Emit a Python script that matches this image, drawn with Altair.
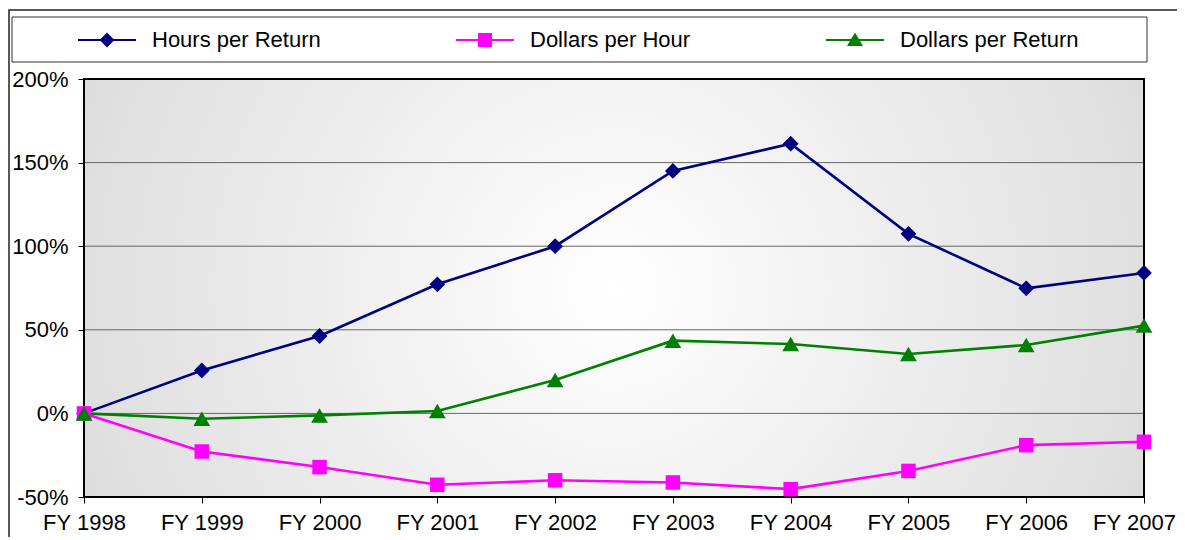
import altair as alt
import pandas as pd

years = ["FY 1998", "FY 1999", "FY 2000", "FY 2001", "FY 2002",
         "FY 2003", "FY 2004", "FY 2005", "FY 2006", "FY 2007"]
series_names = ["Hours per Return", "Dollars per Hour", "Dollars per Return"]
hours_per_return = [0, 25.7, 46.3, 77.2, 100, 145, 161.3, 107.4, 74.8, 84]
dollars_per_hour = [0, -22.8, -32.1, -42.7, -40, -41.3, -45.3, -34.4, -19, -17]
dollars_per_return = [0, -3.2, -1.2, 1.4, 20, 43.5, 41.5, 35.5, 40.9, 52.5]
y_ticks = [-50, 0, 50, 100, 150, 200]
grid_values = [0, 50, 100, 150]

colors = ["#000080", "#FF00FF", "#008000"]
shapes = ["diamond", "square", "triangle-up"]
sizes = [250, 210, 280]
FONT = "Liberation Sans"
FS = 22

rows = []
for name, vals in zip(series_names, [hours_per_return, dollars_per_hour, dollars_per_return]):
    for yr, v in zip(years, vals):
        rows.append({"year": yr, "series": name, "value": v})
df = pd.DataFrame(rows)
grid_df = pd.DataFrame({"value": grid_values})

W, H = 1060, 418

x_enc = alt.X("year:N", sort=years,
              scale=alt.Scale(type="point", padding=0),
              axis=alt.Axis(title=None, labelAngle=0, labelFont=FONT, labelFontSize=FS,
                            labelColor="black", tickColor="black", tickSize=6,
                            domain=False, grid=False, labelPadding=9,
                            labelOffset=alt.ExprRef(expr="datum.value === 'FY 2007' ? -10 : 0")))
y_scale = alt.Scale(domain=[-50, 200], nice=False, zero=False)
y_enc = alt.Y("value:Q", scale=y_scale,
              axis=alt.Axis(title=None, values=y_ticks, labelExpr="datum.value + '%'",
                            labelFont=FONT, labelFontSize=FS, labelColor="black",
                            tickColor="black", tickSize=6, domain=False, grid=False,
                            labelPadding=10))

sym_expr = ("datum.value === 'Hours per Return' ? 'M-5.8,0L5.8,0M0,-1.2L1.2,0L0,1.2L-1.2,0Z' : "
            "datum.value === 'Dollars per Hour' ? 'M-5.8,0L5.8,0M-1.2,-1.2L1.2,-1.2L1.2,1.2L-1.2,1.2Z' : "
            "'M-5.8,0L5.8,0M0,-1.1L1.25,1L-1.25,1Z'")
col_expr = "scale('color', datum.value)"

legend = alt.Legend(orient="none", legendX=12, legendY=-50, direction="horizontal",
                    title=None, labelFont=FONT, labelFontSize=FS, labelColor="black",
                    labelLimit=400,
                    symbolSize=100, symbolStrokeWidth=2, labelOffset=34,
                    columnPadding=131, padding=0,
                    symbolType=alt.ExprRef(expr=sym_expr),
                    symbolStrokeColor=alt.ExprRef(expr=col_expr),
                    symbolFillColor=alt.ExprRef(expr=col_expr),
                    symbolOpacity=1)

color_enc = alt.Color("series:N", sort=series_names,
                      scale=alt.Scale(domain=series_names, range=colors),
                      legend=legend)

lines = alt.Chart(df).mark_line(strokeWidth=2.6).encode(
    x=x_enc, y=y_enc, color=color_enc, detail="series:N")

point_layers = []
for name, shp, sz in zip(series_names, shapes, sizes):
    point_layers.append(
        alt.Chart(df).transform_filter(alt.datum.series == name)
        .mark_point(filled=True, opacity=1, shape=shp, size=sz)
        .encode(x=x_enc, y=y_enc, color=color_enc))

gridlines = alt.Chart(grid_df).mark_rule(color="#666666", strokeWidth=1).encode(
    y=alt.Y("value:Q", scale=y_scale))

one = pd.DataFrame({"k": [0]})
frame = alt.Chart(one).mark_rect(filled=False, stroke="#222222", strokeWidth=1.5).encode(
    x=alt.value(-75), x2=alt.value(W + 70), y=alt.value(-69), y2=alt.value(H + 70))
legbox = alt.Chart(one).mark_rect(fill="white", stroke="#333333", strokeWidth=1).encode(
    x=alt.value(-72), x2=alt.value(W + 3), y=alt.value(-62), y2=alt.value(-17))

gradient = {"gradient": "radial", "x1": 0.5, "y1": 0.5, "r1": 0,
            "x2": 0.5, "y2": 0.5, "r2": 0.6,
            "stops": [{"offset": 0, "color": "#ffffff"}, {"offset": 1, "color": "#d9d9d9"}]}
bg = alt.Chart(one).mark_rect(fill=gradient).encode(
    x=alt.value(0), x2=alt.value(W), y=alt.value(0), y2=alt.value(H))
border = alt.Chart(one).mark_rect(filled=False, stroke="black", strokeWidth=2).encode(
    x=alt.value(0), x2=alt.value(W), y=alt.value(0), y2=alt.value(H))

chart = alt.layer(frame, legbox, bg, gridlines, border, lines, *point_layers).properties(
    width=W, height=H,
    padding={"left": 76, "top": 71, "right": 33, "bottom": 40},
    autosize=alt.AutoSizeParams(type="none"),
    background="white",
).configure_view(stroke=None)

chart.save("out.html", embed_options={"renderer": "svg", "actions": False})
